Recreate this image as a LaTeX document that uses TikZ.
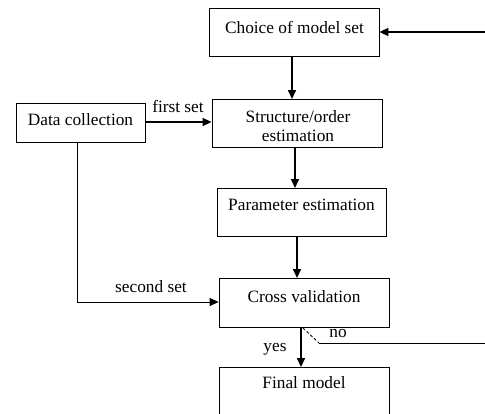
\documentclass[tikz,border=0pt]{standalone}
\usepackage{fontspec}
\setmainfont{Liberation Serif}
\usetikzlibrary{arrows.meta}
\begin{document}
\begin{tikzpicture}[x=1pt,y=-1pt,
  font=\fontsize{17.3}{19.5}\selectfont,
  box/.style={draw, line width=0.8pt, inner sep=0pt},
  txt/.style={inner sep=0pt, anchor=base},
  lbl/.style={inner sep=0pt, anchor=base},
  arr/.style={-{Triangle[length=9pt,width=8pt]}, line width=1.6pt},
  thinarr/.style={-{Triangle[length=9pt,width=8pt]}, line width=0.8pt},
  thin/.style={line width=0.8pt}]
\useasboundingbox (0,0) rectangle (485,413);
\clip (0,0) rectangle (485,413);
% boxes
\node[box, minimum width=170pt, minimum height=48pt] (choice) at (294,32) {};
\node[box, minimum width=170pt, minimum height=48pt] (struct) at (297,123) {};
\node[box, minimum width=129pt, minimum height=39pt] (data) at (80.5,122.5) {};
\node[box, minimum width=169pt, minimum height=48pt] (param) at (301.5,212) {};
\node[box, minimum width=170pt, minimum height=49pt] (cross) at (304,302.5) {};
\node[box, minimum width=170pt, minimum height=54pt] (final) at (304,394) {};
% texts
\node[txt] (choiceT) at (294.5,33) {Choice of model set};
\node[txt] (structT1) at (298,122) {Structure/order};
\node[txt] (structT2) at (298,141) {estimation};
\node[txt] (dataT) at (80.5,125) {Data collection};
\node[txt] (paramT) at (301.5,210) {Parameter estimation};
\node[txt] (crossT) at (304,302) {Cross validation};
\node[txt] (finalT) at (304,388) {Final model};
% coordinates
\coordinate (rin) at (485,32);
\coordinate (dcorner) at (77,302);
\coordinate (nostart) at (303,328);
\coordinate (nobend) at (319,343);
\coordinate (noend) at (485,343);
% connectors
\draw[arr] (rin) -- (rin -| choice.east);
\draw[arr] (292,56) -- (292,99);
\draw[arr] (295,147) -- (295,188);
\draw[arr] (297,236) -- (297,278);
\draw[arr] (301,327) -- (301,367);
\draw[arr] (data.east |- 0,122) -- (struct.west |- 0,122);
\draw[thinarr] (77,142) -- (dcorner) -- (cross.west |- dcorner);
\draw[thin, dashed, dash pattern=on 3pt off 2pt] (nostart) -- (nobend);
\draw[thin] (nobend) -- (noend);
% labels
\node[lbl] (first) at (178,112) {first set};
\node[lbl] (second) at (151,292) {second set};
\node[lbl] (yes) at (275,351) {yes};
\node[lbl] (no) at (338,337) {no};
\end{tikzpicture}
\end{document}
